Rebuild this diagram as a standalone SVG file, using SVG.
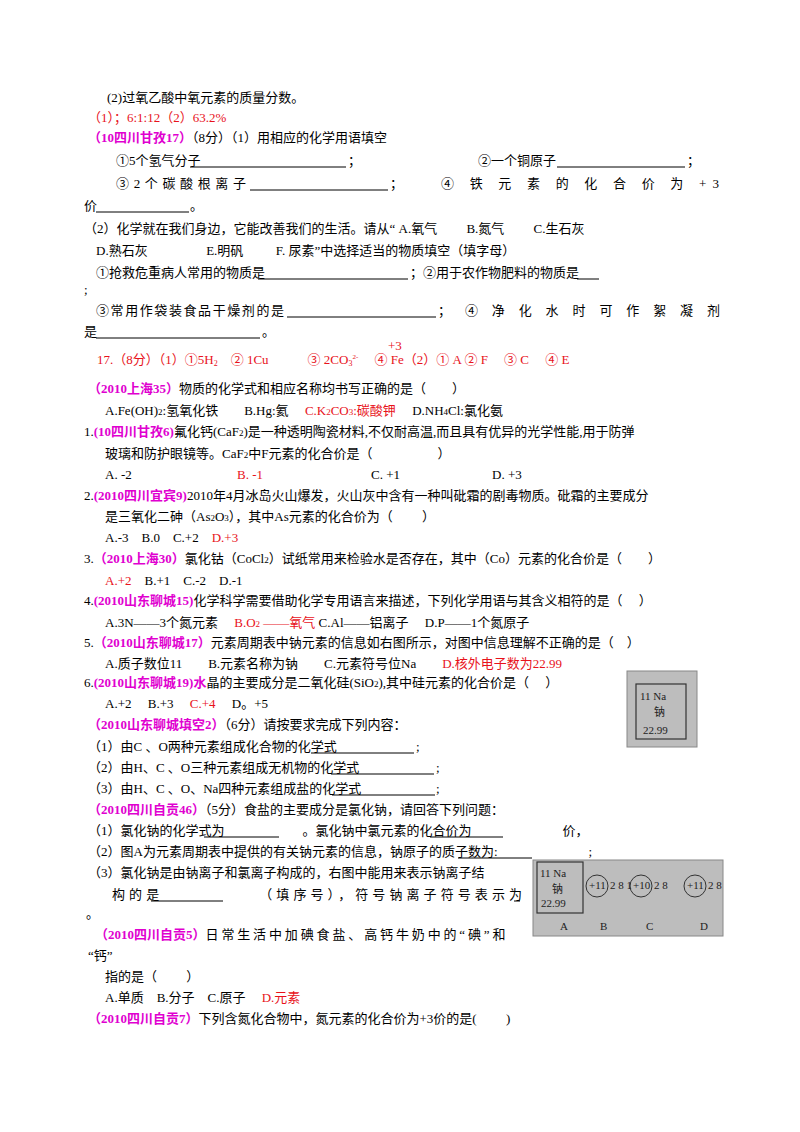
<svg xmlns="http://www.w3.org/2000/svg" width="800" height="1132" viewBox="0 0 800 1132">
<style>
text{font-family:"Liberation Serif","Noto Sans CJK SC",serif;font-size:13px;fill:#000}
.r{fill:#e8121b}.m{fill:#e000d0;font-weight:bold}
.u{stroke:#000;stroke-width:1}
.pic{fill:#bdbdbd;stroke:#888}
.pt{font-size:11px;fill:#222}
</style>
<rect width="800" height="1132" fill="#fff"/>
<g id="text">
<text x="107" y="102">(2)过氧乙酸中氧元素的质量分数。</text>
<text x="88" y="122" class="r">（1）；6:1:12（2）63.2%</text>
<text x="88" y="142"><tspan class="m">（10四川甘孜17）</tspan>（8分）（1）用相应的化学用语填空</text>
<text x="116" y="165">①5个氢气分子</text><text x="348" y="165">；</text>
<text x="478" y="165">②一个铜原子</text><text x="687" y="165">；</text>
<text x="116" y="188" textLength="130">③ 2 个 碳 酸 根 离 子</text><text x="390" y="188">；</text>
<text x="441" y="188" textLength="278">④ 铁 元 素 的 化 合 价 为 +3</text>
<text x="84" y="210">价</text><text x="190" y="210">。</text>
<text x="84" y="233">（2）化学就在我们身边，它能改善我们的生活。请从“ A.氧气 　　B.氮气 　　C.生石灰</text>
<text x="96" y="255">D.熟石灰 　　　　 E.明矾 　　 F. 尿素”中选择适当的物质填空（填字母）</text>
<text x="96" y="277">①抢救危重病人常用的物质是</text><text x="410" y="277">；②用于农作物肥料的物质是</text>
<text x="84" y="294">;</text>
<text x="96" y="315" textLength="188">③常用作袋装食品干燥剂的是</text><text x="438" y="315" textLength="282">；④净化水时可作絮凝剂</text>
<text x="84" y="336">是</text><text x="262" y="336">。</text>
<text x="97" y="364" class="r">17.（8分）（1）①5H<tspan font-size="8" dy="2">2</tspan><tspan dy="-2">　② 1Cu　　　③ 2CO</tspan><tspan font-size="8" dy="2">3</tspan><tspan font-size="7" dy="-7">2-</tspan><tspan dy="5">　  ④ Fe（2）① A ② F　 ③ C 　④ E</tspan></text>
<text x="388" y="350" class="r" font-size="6">+3</text>
<text x="88" y="393"><tspan class="m">（2010上海35）</tspan>物质的化学式和相应名称均书写正确的是（　　）</text>
<text x="105" y="415">A.Fe(OH)<tspan font-size="9">2</tspan>:氢氧化铁　　B.Hg:氦　 <tspan class="r">C.K<tspan font-size="9">2</tspan>CO<tspan font-size="9">3</tspan>:碳酸钾</tspan>　 D.NH<tspan font-size="9">4</tspan>Cl:氯化氨</text>
<text x="84" y="436">1.<tspan class="m">(10四川甘孜6)</tspan>氟化钙(CaF<tspan font-size="9">2</tspan>)是一种透明陶瓷材料,不仅耐高温,而且具有优异的光学性能,用于防弹</text>
<text x="105" y="458">玻璃和防护眼镜等。CaF<tspan font-size="9">2</tspan>中F元素的化合价是（　　　　　）</text>
<text x="105" y="479">A.  -2</text><text x="237" y="479" class="r">B. -1</text><text x="371" y="479">C. +1</text><text x="492" y="479">D. +3</text>
<text x="84" y="500">2.<tspan class="m">(2010四川宜宾9)</tspan>2010年4月冰岛火山爆发，火山灰中含有一种叫砒霜的剧毒物质。砒霜的主要成分</text>
<text x="105" y="521">是三氧化二砷（As<tspan font-size="9">2</tspan>O<tspan font-size="9">3</tspan>），其中As元素的化合价为（　　 ）</text>
<text x="105" y="542">A.-3　B.0　C.+2　<tspan class="r">D.+3</tspan></text>
<text x="84" y="563">3.<tspan class="m">（2010上海30）</tspan>氯化钴（CoCl<tspan font-size="9">2</tspan>）试纸常用来检验水是否存在，其中（Co）元素的化合价是（　　）</text>
<text x="105" y="585"><tspan class="r">A.+2</tspan>　B.+1　C.-2　D.-1</text>
<text x="84" y="605">4.<tspan class="m">(2010山东聊城15)</tspan>化学科学需要借助化学专用语言来描述，下列化学用语与其含义相符的是（　 ）</text>
<text x="105" y="627">A.3N——3个氮元素　 <tspan class="r">B.O<tspan font-size="9">2</tspan> ——氧气</tspan> C.Al——铝离子　 D.P——1个氮原子</text>
<text x="84" y="647">5.<tspan class="m">（2010山东聊城17）</tspan>元素周期表中钠元素的信息如右图所示，对图中信息理解不正确的是（　）</text>
<text x="105" y="668">A.质子数位11　　B.元素名称为钠　　C.元素符号位Na　　<tspan class="r">D.核外电子数为22.99</tspan></text>
<text x="84" y="687">6.<tspan class="m">(2010山东聊城19)水</tspan>晶的主要成分是二氧化硅(SiO<tspan font-size="9">2</tspan>),其中硅元素的化合价是（　 ）</text>
<text x="105" y="708">A.+2　 B.+3　 <tspan class="r">C.+4</tspan>　 D。+5</text>
<text x="88" y="729"><tspan class="m">（2010山东聊城填空2）</tspan>（6分）请按要求完成下列内容：</text>
<text x="88" y="751">（1）由C 、O两种元素组成化合物的化学式</text><text x="416" y="751">;</text>
<text x="88" y="772">（2）由H、C 、O三种元素组成无机物的化学式</text><text x="436" y="772">;</text>
<text x="88" y="793">（3）由H、C 、O、Na四种元素组成盐的化学式</text><text x="436" y="793">;</text>
<text x="88" y="814"><tspan class="m">（2010四川自贡46）</tspan>（5分）食盐的主要成分是氯化钠，请回答下列问题：</text>
<text x="88" y="835">（1）氯化钠的化学式为　　　　　　。氯化钠中氯元素的化合价为　　　　　　　价，</text>
<text x="88" y="856">（2）图A为元素周期表中提供的有关钠元素的信息，钠原子的质子数为:　　　　　　　;</text>
<text x="88" y="877">（3）氯化钠是由钠离子和氯离子构成的，右图中能用来表示钠离子结</text>
<text x="112" y="899" textLength="410">构的是　　　　　　（填序号），符号钠离子符号表示为</text>
<text x="86" y="918">。</text>
<text x="95" y="939"><tspan class="m">（2010四川自贡5）</tspan><tspan textLength="300">日常生活中加碘食盐、高钙牛奶中的“碘”和</tspan></text>
<text x="88" y="960">“钙”</text>
<text x="105" y="981">指的是（　　 ）</text>
<text x="105" y="1002">A.单质　B.分子　C.原子　 <tspan class="r">D.元素</tspan></text>
<text x="88" y="1023"><tspan class="m">（2010四川自贡7）</tspan>下列含氮化合物中，氮元素的化合价为+3价的是(　　 )</text>
</g>
<g id="underlines">
<line class="u" x1="190" y1="167" x2="346" y2="167"/>
<line class="u" x1="557" y1="167" x2="685" y2="167"/>
<line class="u" x1="250" y1="190" x2="388" y2="190"/>
<line class="u" x1="96" y1="212" x2="189" y2="212"/>
<line class="u" x1="258" y1="279" x2="408" y2="279"/>
<line class="u" x1="577" y1="279" x2="599" y2="279"/>
<line class="u" x1="287" y1="317" x2="436" y2="317"/>
<line class="u" x1="96" y1="338" x2="260" y2="338"/>
<line class="u" x1="311" y1="753" x2="414" y2="753"/>
<line class="u" x1="331" y1="774" x2="434" y2="774"/>
<line class="u" x1="332" y1="795" x2="435" y2="795"/>
<line class="u" x1="204" y1="837" x2="279" y2="837"/>
<line class="u" x1="430" y1="837" x2="503" y2="837"/>
<line class="u" x1="458" y1="858" x2="532" y2="858"/>
<line class="u" x1="151" y1="901" x2="223" y2="901"/>
<line class="u" x1="514" y1="901" x2="520" y2="901"/>
</g>
<g id="pic-na">
<rect class="pic" x="627" y="671" width="70" height="76"/>
<rect x="636" y="684" width="50" height="55" fill="none" stroke="#333" stroke-width="1.2"/>
<text x="640" y="700" class="pt">11  Na</text><text x="654" y="716" class="pt">钠</text><text x="643" y="734" class="pt">22.99</text>
</g>
<g id="pic-ions">
<rect class="pic" x="533" y="860" width="190" height="76" fill="#c8c8c8"/>
<rect x="537" y="862" width="46" height="51" fill="none" stroke="#333" stroke-width="1.2"/>
<text x="540" y="877" class="pt">11  Na</text><text x="552" y="893" class="pt">钠</text><text x="541" y="907" class="pt">22.99</text>
<circle cx="597" cy="886" r="11" fill="none" stroke="#333"/><text x="589" y="889" class="pt" font-size="8">+11</text>
<text x="610" y="889" class="pt" font-size="8">2 8 1</text>
<circle cx="641" cy="886" r="11" fill="none" stroke="#333"/><text x="633" y="889" class="pt" font-size="8">+10</text>
<text x="654" y="889" class="pt" font-size="8">2 8</text>
<circle cx="695" cy="886" r="11" fill="none" stroke="#333"/><text x="687" y="889" class="pt" font-size="8">+11</text>
<text x="708" y="889" class="pt" font-size="8">2 8</text>
<text x="560" y="930" class="pt">A</text><text x="600" y="930" class="pt">B</text><text x="646" y="930" class="pt">C</text><text x="700" y="930" class="pt">D</text>
</g>
</svg>
